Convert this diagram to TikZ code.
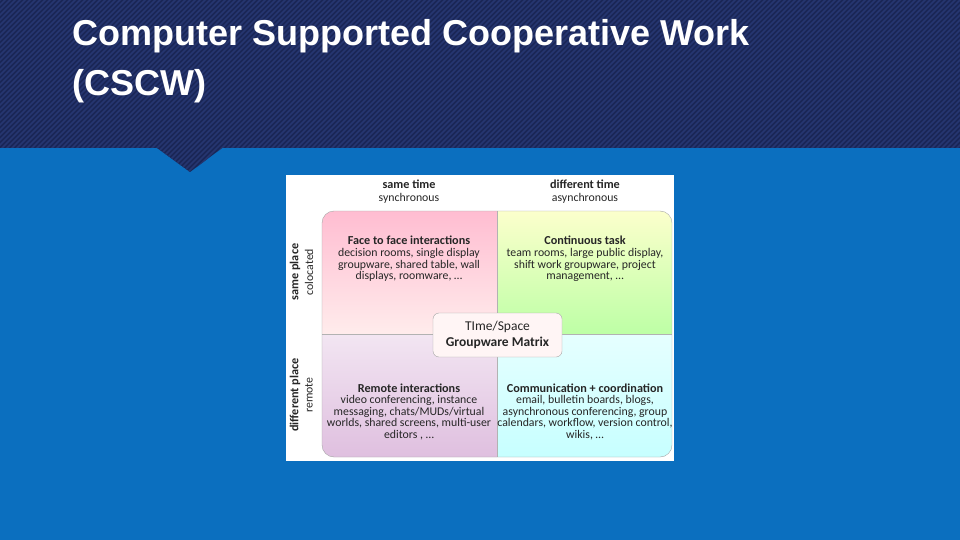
\documentclass[tikz,border=0pt]{standalone}
\usepackage{fontspec}
\setmainfont{Carlito}
\newfontfamily\titlefont{Liberation Sans}
\begin{document}
\begin{tikzpicture}[x=1pt,y=-1pt,
  body/.style={align=center,font=\fontsize{11.8}{11.8}\selectfont,text=black!85,inner sep=1pt},
  head/.style={font=\fontsize{12.2}{12}\bfseries\selectfont,text=black!85,inner sep=1pt}]
\definecolor{bgblue}{HTML}{0B6FBF}
\definecolor{navy}{HTML}{1A2656}
\definecolor{navystripe}{HTML}{263670}
\useasboundingbox (0,0) rectangle (960,540);
\fill[bgblue] (0,0) rectangle (960,540);
\begin{scope}
\clip (0,0) -- (960,0) -- (960,148) -- (222,148) -- (190,172) -- (157,148) -- (0,148) -- cycle;
\fill[navy] (0,0) rectangle (960,175);
\foreach \i in {0,5,...,1150} {\draw[navystripe,line width=1.6pt] (\i-180,175) -- (\i,-5);}
\end{scope}
\node[anchor=north west,align=left,text=white,font=\titlefont\fontsize{36}{50}\bfseries\selectfont,inner sep=0pt] (title) at (72,19) {Computer Supported Cooperative Work\\(CSCW)};
% matrix picture
\fill[white] (286,175) rectangle (674,461);
\begin{scope}
\clip[rounded corners=12pt] (322,211) rectangle (672,457);
\shade[top color=pink!90!magenta!80, bottom color=pink!30] (322,211) rectangle (497,334);
\shade[top color=lime!25!yellow!20, bottom color=lime!35!green!35] (497,211) rectangle (672,334);
\shade[top color=violet!10, bottom color=violet!25] (322,334) rectangle (497,457);
\shade[top color=cyan!10, bottom color=cyan!22] (497,334) rectangle (672,457);
\draw[gray!60] (497,211) -- (497,457) (322,334) -- (672,334);
\end{scope}
\draw[gray!70,rounded corners=12pt] (322,211) rectangle (672,457);
\node[head] (st) at (409,184) {same time};
\node[body] (sts) at (409,198) {synchronous};
\node[head] (dt) at (585,184) {different time};
\node[body] (dts) at (585,198) {asynchronous};
\node[head,rotate=90] (sp) at (295,272) {same place};
\node[body,rotate=90] (spc) at (309,272) {colocated};
\node[head,rotate=90] (dp) at (295,395) {different place};
\node[body,rotate=90] (dpr) at (309,395) {remote};
\node[head] (q1) at (409,240) {Face to face interactions};
\node[body,anchor=north] (q1b) at (409,247) {decision rooms, single display\\groupware, shared table, wall\\displays, roomware, \dots};
\node[head] (q2) at (585,240) {Continuous task};
\node[body,anchor=north] (q2b) at (585,247) {team rooms, large public display,\\shift work groupware, project\\management, \dots};
\node[head] (q3) at (409,388) {Remote interactions};
\node[body,anchor=north] (q3b) at (409,394) {video conferencing, instance\\messaging, chats/MUDs/virtual\\worlds, shared screens, multi-user\\editors , \dots};
\node[head] (q4) at (585,388) {Communication + coordination};
\node[body,anchor=north] (q4b) at (585,394) {email, bulletin boards, blogs,\\asynchronous conferencing, group\\calendars, workflow,  version control,\\wikis, \dots};
\node[draw=gray!70,rounded corners=6pt,fill=pink!15,minimum width=129pt,minimum height=44pt,align=center,font=\fontsize{13.5}{16}\selectfont,text=black!85,inner sep=1pt] (c) at (497.5,335) {TIme/Space\\\textbf{Groupware Matrix}};
\end{tikzpicture}
\end{document}
